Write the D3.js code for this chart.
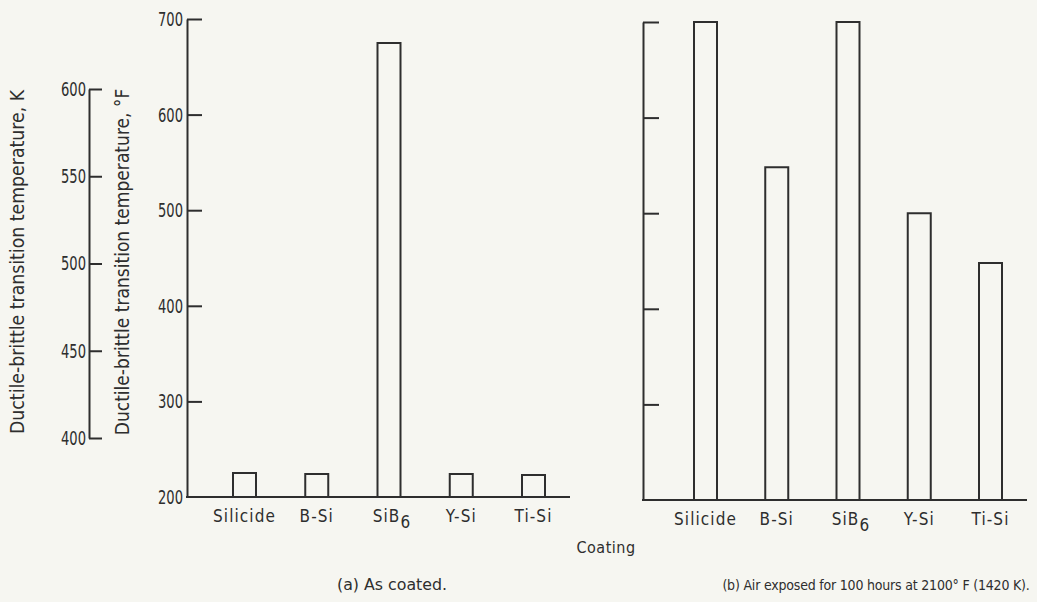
<!DOCTYPE html>
<html>
<head>
<meta charset="utf-8">
<script src="https://cdn.jsdelivr.net/npm/d3@7"></script>
<style>
  html, body { margin: 0; padding: 0; background: #f6f6f1; }
  svg { display: block; }
</style>
</head>
<body>
<svg id="chart" width="1037" height="602"></svg>
<script>
// Coating systems and their ductile-brittle transition temperatures (°F)
const coatings = ["Silicide", "B-Si", "SiB6", "Y-Si", "Ti-Si"];
const asCoated = [225, 224, 675, 224, 223];
const airExposed = [700, 548, 700, 500, 448];
const fahrenheitTicks = [200, 300, 400, 500, 600, 700];
const kelvinTicks = [400, 450, 500, 550, 600];

const ink = "#2e2e2e";
const condensed = "'DejaVu Sans Condensed', 'Liberation Sans', sans-serif";
const svg = d3.select("#chart");

// Temperature scales (°F) for both panels, plus the Kelvin companion scale
const yA = d3.scaleLinear().domain([200, 700]).range([497, 19]);
const yB = d3.scaleLinear().domain([200, 700]).range([500, 22]);
const yK = d3.scaleLinear().domain([400, 600]).range([438, 89]);

const xA = d3.scalePoint().domain(coatings).range([244.5, 533.5]);
const xB = d3.scalePoint().domain(coatings).range([705.5, 990.5]);
const barW = 23;

function styleAxis(g) {
  g.select(".domain").attr("stroke", ink).attr("stroke-width", 2);
  g.selectAll(".tick text").attr("fill", ink)
    .attr("font-family", condensed).attr("font-size", 20)
    .attr("textLength", 25).attr("lengthAdjust", "spacingAndGlyphs");
}

// Kelvin axis (ticks point right, toward the plot)
const kAxis = svg.append("g").attr("transform", "translate(89,0)")
  .call(d3.axisLeft(yK).tickValues(kelvinTicks).tickSize(0).tickSizeOuter(0).tickPadding(3));
styleAxis(kAxis);
kAxis.selectAll(".tick").append("line")
  .attr("x1", 0).attr("x2", 13).attr("stroke", ink).attr("stroke-width", 2);

// Fahrenheit axis, panel (a)
const fAxis = svg.append("g").attr("transform", "translate(187,0)")
  .call(d3.axisLeft(yA).tickValues(fahrenheitTicks).tickSize(0).tickSizeOuter(0).tickPadding(4));
styleAxis(fAxis);
fAxis.selectAll(".tick").filter(d => d !== 200).append("line")
  .attr("x1", 0).attr("x2", 15).attr("stroke", ink).attr("stroke-width", 2);

// Axis titles
svg.append("text").attr("font-family", condensed)
  .attr("transform", "translate(24,262) rotate(-90)")
  .attr("text-anchor", "middle").attr("font-size", 19).attr("fill", ink)
  .attr("textLength", 344).attr("lengthAdjust", "spacingAndGlyphs")
  .text("Ductile-brittle transition temperature, K");
svg.append("text").attr("font-family", condensed)
  .attr("transform", "translate(129,262) rotate(-90)")
  .attr("text-anchor", "middle").attr("font-size", 19).attr("fill", ink)
  .text("Ductile-brittle transition temperature, °F");

// Panel (a) baseline
svg.append("line").attr("x1", 186).attr("x2", 570)
  .attr("y1", yA(200)).attr("y2", yA(200)).attr("stroke", ink).attr("stroke-width", 2);

// Panel (b) axis: ticks without labels
const bAxis = svg.append("g").attr("transform", "translate(643,0)")
  .call(d3.axisLeft(yB).tickValues(fahrenheitTicks).tickSize(0).tickSizeOuter(0).tickFormat(""));
styleAxis(bAxis);
bAxis.selectAll(".tick").filter(d => d !== 200).append("line")
  .attr("x1", 0).attr("x2", 16).attr("stroke", ink).attr("stroke-width", 2);
svg.append("line").attr("x1", 642).attr("x2", 1027)
  .attr("y1", yB(200)).attr("y2", yB(200)).attr("stroke", ink).attr("stroke-width", 2);

// Open bars drawn as three-sided outlines rising from the baseline
function drawBars(values, x, y) {
  svg.append("g").selectAll("path").data(values).join("path")
    .attr("d", (v, i) => {
      const cx = x(coatings[i]);
      const l = cx - barW / 2, r = cx + barW / 2;
      return `M${l},${y(200)}V${y(v)}H${r}V${y(200)}`;
    })
    .attr("fill", "none").attr("stroke", ink).attr("stroke-width", 2);
}
drawBars(asCoated, xA, yA);
drawBars(airExposed, xB, yB);

// Category labels (SiB6 gets a subscript)
function drawLabels(x, yPos) {
  const t = svg.append("g").selectAll("text").data(coatings).join("text")
    .attr("x", d => x(d) + (d === "SiB6" ? 3 : 0)).attr("y", yPos)
    .attr("text-anchor", "middle").attr("font-size", 17).attr("fill", ink)
    .attr("letter-spacing", 1.1)
    .attr("font-family", condensed);
  t.each(function (d) {
    const s = d3.select(this);
    if (d === "SiB6") {
      s.append("tspan").text("SiB");
      s.append("tspan").attr("dy", 6).text("6");
    } else {
      s.text(d);
    }
  });
}
drawLabels(xA, 522);
drawLabels(xB, 525);

svg.append("text").attr("x", 606).attr("y", 553).attr("text-anchor", "middle")
  .attr("font-size", 16).attr("fill", ink).attr("letter-spacing", 0.5)
  .attr("font-family", condensed)
  .text("Coating");

// Panel captions
svg.append("text").attr("x", 392).attr("y", 590).attr("text-anchor", "middle")
  .attr("font-size", 16).attr("fill", ink)
  .attr("textLength", 110).attr("lengthAdjust", "spacingAndGlyphs")
  .attr("font-family", condensed)
  .text("(a) As coated.");
svg.append("text").attr("x", 876).attr("y", 590).attr("text-anchor", "middle")
  .attr("font-size", 14).attr("fill", ink).attr("letter-spacing", -0.2)
  .attr("font-family", condensed)
  .text("(b) Air exposed for 100 hours at 2100° F (1420 K).");
</script>
</body>
</html>
